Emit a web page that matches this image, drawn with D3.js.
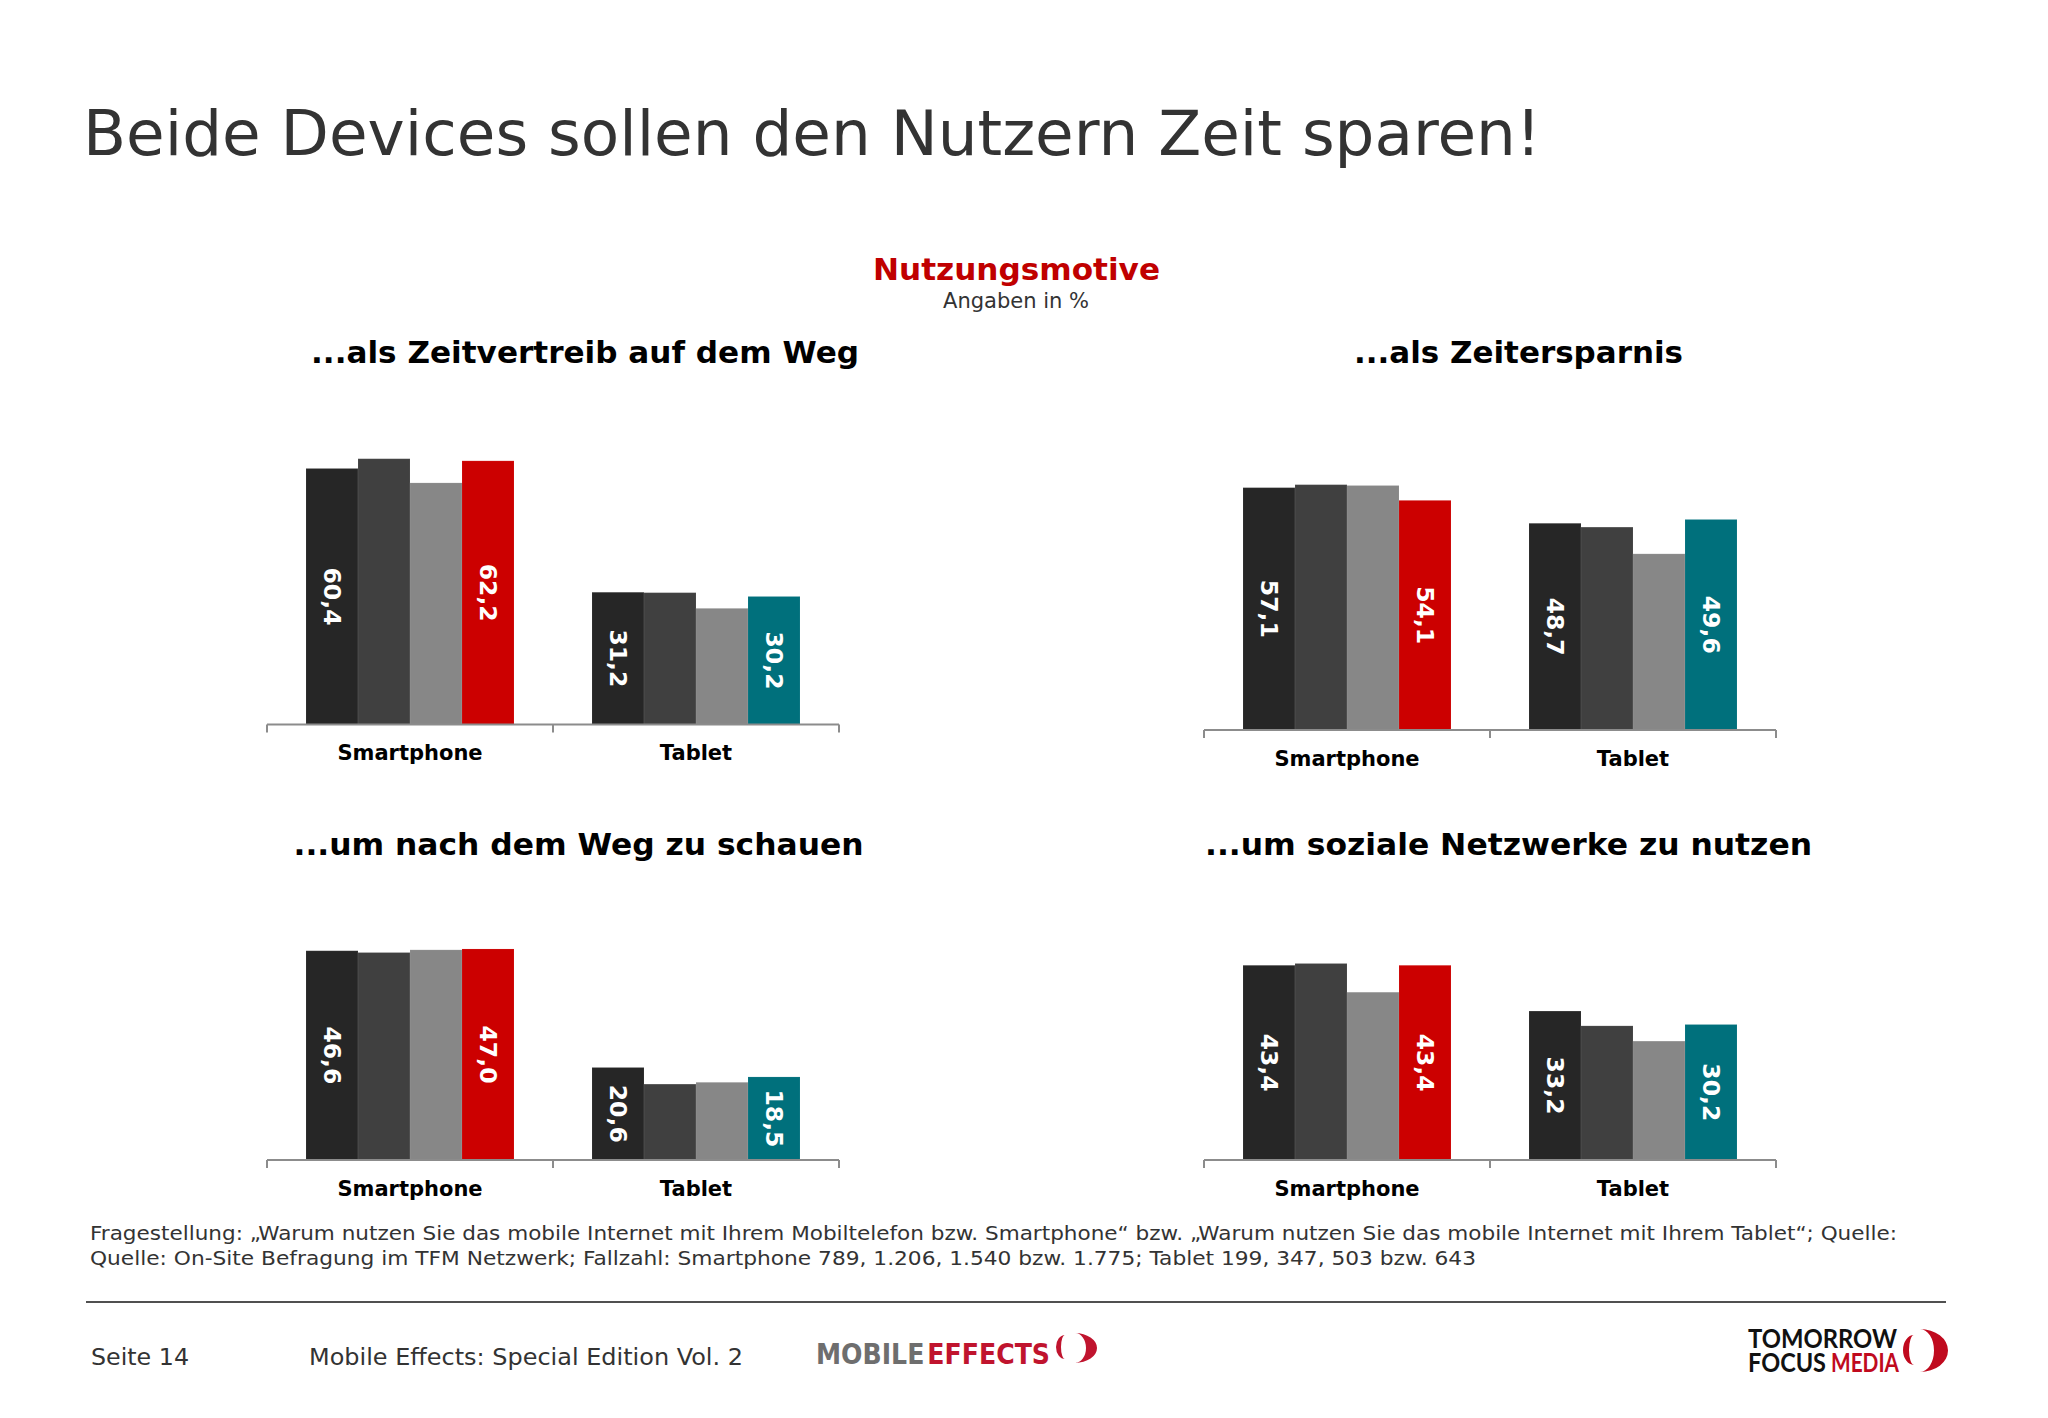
<!DOCTYPE html>
<html>
<head>
<meta charset="utf-8">
<script src="https://cdn.jsdelivr.net/npm/d3@7"></script>
<style>
  html, body { margin: 0; padding: 0; background: #ffffff; }
  svg { display: block; }
</style>
</head>
<body>
<svg id="chart" width="2048" height="1418"></svg>
<script>
// ---------------- DATA ----------------
const mainTitle = "Beide Devices sollen den Nutzern Zeit sparen!";
const chartHeading = "Nutzungsmotive";
const chartSubHeading = "Angaben in %";
const categories = ["Smartphone", "Tablet"];
const seriesKeys = ["s1", "s2", "s3", "s4"];
const panelTitles = [
  "...als Zeitvertreib auf dem Weg",
  "...als Zeitersparnis",
  "...um nach dem Weg zu schauen",
  "...um soziale Netzwerke zu nutzen"
];
const smartphoneValues = [
  [60.4, 62.7, 57.0, 62.2],
  [57.1, 57.8, 57.6, 54.1],
  [46.6, 46.2, 46.8, 47.0],
  [43.4, 43.8, 37.4, 43.4]
];
const tabletValues = [
  [31.2, 31.1, 27.4, 30.2],
  [48.7, 47.8, 41.5, 49.6],
  [20.6, 16.9, 17.3, 18.5],
  [33.2, 29.9, 26.5, 30.2]
];
const labeledSeries = [0, 3];
const yAxisMax = [70, 70, 50, 50];
const footnoteLines = [
  "Fragestellung: \u201EWarum nutzen Sie das mobile Internet mit Ihrem Mobiltelefon bzw. Smartphone\u201C bzw. \u201EWarum nutzen Sie das mobile Internet mit Ihrem Tablet\u201C; Quelle:",
  "Quelle: On-Site Befragung im TFM Netzwerk; Fallzahl: Smartphone 789, 1.206, 1.540 bzw. 1.775; Tablet 199, 347, 503 bzw. 643"
];
const footerPage = "Seite 14";
const footerPublication = "Mobile Effects: Special Edition Vol. 2";

// ---------------- STYLE / LAYOUT ----------------
const colorsSmartphone = ["#262626", "#404040", "#878787", "#cc0000"];
const colorsTablet = ["#262626", "#404040", "#878787", "#00707c"];
const panelLayout = [
  { x0: 267, x1: 839, axisY: 724.5, plotH: 296.7, titleX: 585, titleY: 363, titleW: 548 },
  { x0: 1204, x1: 1776, axisY: 730, plotH: 297.1, titleX: 1518.5, titleY: 363, titleW: 329 },
  { x0: 267, x1: 839, axisY: 1160, plotH: 224.5, titleX: 578.5, titleY: 855, titleW: 570 },
  { x0: 1204, x1: 1776, axisY: 1160, plotH: 224.3, titleX: 1508.5, titleY: 855, titleW: 607 }
];
const SANS = "'DejaVu Sans', Verdana, sans-serif";

const svg = d3.select("#chart");
svg.append("rect").attr("width", 2048).attr("height", 1418).attr("fill", "#ffffff");

function fit(sel, w) {
  sel.attr("textLength", w).attr("lengthAdjust", "spacingAndGlyphs");
}

// Main title
svg.append("text")
  .attr("x", 83).attr("y", 155)
  .attr("font-family", SANS).attr("font-size", 62.5).attr("fill", "#333333")
  .text(mainTitle).call(fit, 1458);

// Heading
svg.append("text")
  .attr("x", 1016.5).attr("y", 280).attr("text-anchor", "middle")
  .attr("font-family", SANS).attr("font-weight", "bold").attr("font-size", 31).attr("fill", "#c00000")
  .text(chartHeading).call(fit, 287);
svg.append("text")
  .attr("x", 1016).attr("y", 307.5).attr("text-anchor", "middle")
  .attr("font-family", SANS).attr("font-size", 20.5).attr("fill", "#333333")
  .text(chartSubHeading).call(fit, 146);

// Panels
panelLayout.forEach((L, pi) => {
  const g = svg.append("g");
  const x = d3.scaleBand().domain(categories).range([L.x0, L.x1]).paddingInner(0).paddingOuter(0);
  const xs = d3.scaleBand().domain(seriesKeys).range([0, x.bandwidth()]).paddingInner(0).paddingOuter(0.75);
  const y = d3.scaleLinear().domain([0, yAxisMax[pi]]).range([L.axisY, L.axisY - L.plotH]);

  const data = [
    { cat: categories[0], vals: smartphoneValues[pi], colors: colorsSmartphone },
    { cat: categories[1], vals: tabletValues[pi], colors: colorsTablet }
  ];

  data.forEach(d => {
    const gg = g.append("g").attr("transform", `translate(${x(d.cat)},0)`);
    gg.selectAll("rect").data(d.vals).join("rect")
      .attr("x", (v, i) => xs(seriesKeys[i]))
      .attr("width", xs.bandwidth())
      .attr("y", v => y(v))
      .attr("height", v => y(0) - y(v))
      .attr("fill", (v, i) => d.colors[i])
      .attr("stroke", "rgba(255,255,255,0.08)")
      .attr("stroke-width", 1);

    gg.selectAll("text.val").data(labeledSeries).join("text")
      .attr("class", "val")
      .attr("transform", i => {
        const cx = xs(seriesKeys[i]) + xs.bandwidth() / 2;
        const cy = (y(d.vals[i]) + y(0)) / 2;
        return `translate(${cx},${cy}) rotate(90)`;
      })
      .attr("text-anchor", "middle")
      .attr("dy", "0.36em")
      .attr("font-family", SANS).attr("font-weight", "bold").attr("font-size", 23.5)
      .attr("fill", "#ffffff")
      .text(i => d3.format(".1f")(d.vals[i]).replace(".", ","));
  });

  // Axis: baseline with boundary ticks
  const axis = d3.axisBottom(x).tickSize(0).tickPadding(21);
  const ag = g.append("g").attr("transform", `translate(0,${L.axisY})`).call(axis);
  ag.select(".domain").remove();
  ag.selectAll("text")
    .attr("font-family", SANS).attr("font-weight", "bold").attr("font-size", 21)
    .attr("fill", "#000000");
  const edges = [L.x0, x(categories[1]), L.x1];
  ag.append("line").attr("x1", L.x0).attr("x2", L.x1).attr("y1", 0).attr("y2", 0)
    .attr("stroke", "#8c8c8c").attr("stroke-width", 2);
  ag.selectAll("line.tk").data(edges).join("line").attr("class", "tk")
    .attr("x1", e => e).attr("x2", e => e).attr("y1", 0).attr("y2", 8)
    .attr("stroke", "#8c8c8c").attr("stroke-width", 2);

  // Panel title
  svg.append("text")
    .attr("x", L.titleX).attr("y", L.titleY).attr("text-anchor", "middle")
    .attr("font-family", SANS).attr("font-weight", "bold").attr("font-size", 31)
    .attr("fill", "#000000")
    .text(panelTitles[pi]).call(fit, L.titleW);
});

// Footnote
svg.append("text").attr("x", 90).attr("y", 1240)
  .attr("font-family", SANS).attr("font-size", 20).attr("fill", "#333333")
  .text(footnoteLines[0]).call(fit, 1807);
svg.append("text").attr("x", 90).attr("y", 1265)
  .attr("font-family", SANS).attr("font-size", 20).attr("fill", "#333333")
  .text(footnoteLines[1]).call(fit, 1386);

// Footer rule
svg.append("line").attr("x1", 86).attr("x2", 1946).attr("y1", 1302).attr("y2", 1302)
  .attr("stroke", "#505050").attr("stroke-width", 2);

// Footer texts
svg.append("text").attr("x", 91).attr("y", 1365)
  .attr("font-family", SANS).attr("font-size", 23).attr("fill", "#333333")
  .text(footerPage).call(fit, 98);
svg.append("text").attr("x", 309).attr("y", 1365)
  .attr("font-family", SANS).attr("font-size", 23).attr("fill", "#333333")
  .text(footerPublication).call(fit, 434);

// MOBILE EFFECTS logo
const COND = "'Liberation Sans Narrow', 'DejaVu Sans Condensed', 'Roboto', sans-serif";
const me = svg.append("text").attr("x", 816).attr("y", 1364)
  .attr("font-family", COND).attr("font-weight", "bold").attr("font-size", 29)
  .attr("textLength", 234).attr("lengthAdjust", "spacingAndGlyphs");
me.append("tspan").attr("fill", "#6e6e6e").text("MOBILE");
me.append("tspan").attr("fill", "#c0142e").attr("dx", 3).text("EFFECTS");
svg.append("path")
  .attr("d", "M1065,1335 A9,12 0 0 0 1065,1359 A4,12 0 0 1 1065,1335 Z")
  .attr("fill", "#c0142e");
svg.append("path")
  .attr("d", "M1075,1333 A22,15 0 0 1 1075,1363 A11,15 0 0 0 1075,1333 Z")
  .attr("fill", "#c0142e");

// TOMORROW FOCUS MEDIA logo
const GEO = "Lato, 'Open Sans', sans-serif";
const tfm = svg.append("text")
  .attr("font-family", GEO).attr("font-weight", "bold").attr("font-size", 26);
tfm.append("tspan").attr("x", 1748).attr("y", 1348).attr("fill", "#111111")
  .attr("textLength", 149).attr("lengthAdjust", "spacingAndGlyphs").text("TOMORROW");
tfm.append("tspan").attr("x", 1748).attr("y", 1372).attr("fill", "#111111")
  .attr("textLength", 78).attr("lengthAdjust", "spacingAndGlyphs").text("FOCUS");
tfm.append("tspan").attr("x", 1831).attr("y", 1372).attr("fill", "#c00a1e")
  .attr("textLength", 68).attr("lengthAdjust", "spacingAndGlyphs").text("MEDIA");
svg.append("path")
  .attr("d", "M1914,1335 A11,15 0 0 0 1914,1365 A5,15 0 0 1 1914,1335 Z")
  .attr("fill", "#c00a1e");
svg.append("path")
  .attr("d", "M1920,1329 A28,21.5 0 0 1 1920,1372 A14,21.5 0 0 0 1920,1329 Z")
  .attr("fill", "#c00a1e");
</script>
</body>
</html>
